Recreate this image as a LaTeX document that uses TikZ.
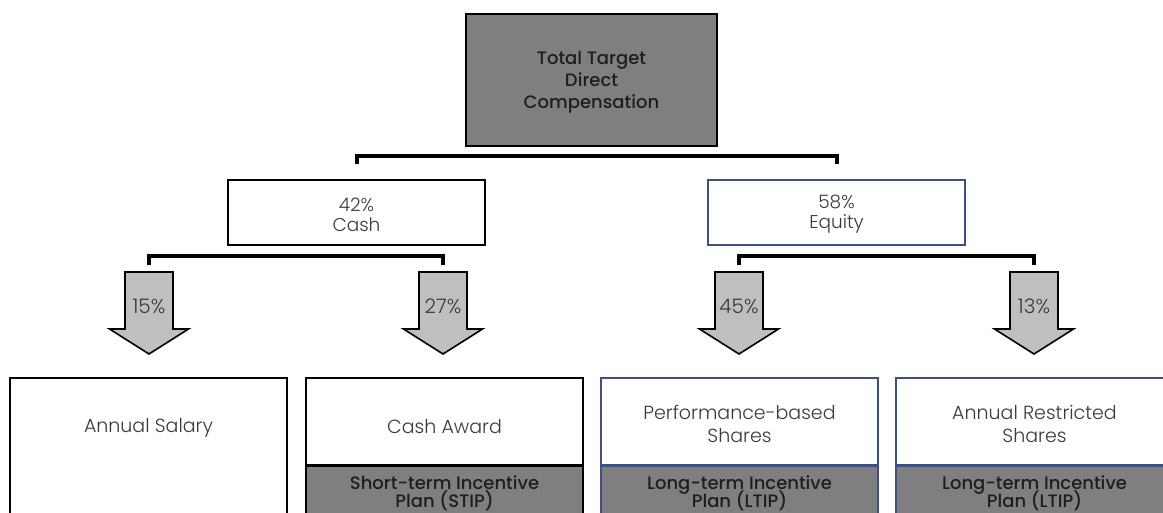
\documentclass[tikz,border=0pt]{standalone}
\usepackage{fontspec}
\setmainfont{Poppins}
\newfontfamily\lightfont{Poppins Light}
\newfontfamily\medfont{Poppins Medium}
\usetikzlibrary{positioning}
\lineskiplimit=-50pt

\definecolor{boxgray}{HTML}{7F7F7F}
\definecolor{arrowgray}{HTML}{BFBFBF}
\definecolor{navy}{RGB}{63,79,130}
\definecolor{darktext}{HTML}{1E1E1E}
\definecolor{lighttext}{HTML}{3A3A3A}

\tikzset{
  headbox/.style={draw=black, line width=2pt, fill=boxgray, text=darktext,
    minimum width=251pt, minimum height=132pt, align=center, text height=61pt,
    font=\medfont\fontsize{18}{22}\selectfont},
  splitbox/.style={draw=black, line width=1.6pt, fill=white, text=lighttext,
    minimum width=257pt, minimum height=65pt, align=center, text height=37.5pt,
    font=\lightfont\fontsize{18.5}{20}\selectfont},
  planbox/.style={draw=black, line width=1.6pt, fill=white, text=lighttext,
    minimum width=277pt, minimum height=87pt, align=center, inner sep=0pt,
    font=\lightfont\fontsize{19}{23}\selectfont},
  bandbox/.style={draw=black, line width=1.6pt, fill=boxgray, text=darktext,
    minimum width=277pt, minimum height=54pt, align=center, inner sep=0pt,
    font=\medfont\fontsize{18}{17.5}\selectfont},
  bracket/.style={line width=4pt, line cap=butt},
  blockarrow/.style={draw=black, line width=1.6pt, fill=arrowgray, line join=miter},
  pct/.style={text=lighttext, inner sep=0pt, font=\lightfont\fontsize{20}{20}\selectfont},
}

\begin{document}
\begin{tikzpicture}[x=1pt, y=-1pt]
  \useasboundingbox (0,0) rectangle (1163,512);

  % top level
  \node[headbox] (total) at (591.5,80) {Total Target\\Direct\\Compensation};

  % cash / equity split
  \node[splitbox] (cash) at (356.5,212.5) {42\%\\Cash};
  \node[splitbox, draw=navy] (equity) at (836.5,212.5) {58\%\\Equity};

  \draw[bracket] ([yshift=15pt]cash.north) -- ([yshift=23pt]cash.north)
    -- ([yshift=23pt]equity.north) -- ([yshift=15pt]equity.north);

  % arrows with shares
  \foreach \x/\p/\n in {149/15/a, 443/27/b, 739/45/c, 1034/13/d}{
    \coordinate (t\n) at (\x,272);
    \draw[blockarrow] (\x-24,272) -- (\x+24,272) -- (\x+24,329) -- (\x+39.5,329)
      -- (\x,354) -- (\x-39.5,329) -- (\x-24,329) -- cycle;
    \node[pct] (p\n) at (\x,306) {\p\%};
  }
  \draw[bracket] ([yshift=7pt]ta) -- ([yshift=16pt]ta) -- ([yshift=16pt]tb) -- ([yshift=7pt]tb);
  \draw[bracket] ([yshift=7pt]tc) -- ([yshift=16pt]tc) -- ([yshift=16pt]td) -- ([yshift=7pt]td);

  % components
  \node[planbox, minimum height=160pt, anchor=north] (salary) at (148.5,377) {};
  \node[lighttext, font=\lightfont\fontsize{19}{23}\selectfont] (salarytxt) at (148.5,428) {Annual Salary};

  \node[planbox, anchor=north, text height=24pt] (award) at (444.5,377) {Cash Award};
  \node[bandbox, below=0pt of award] (stip) {Short-term Incentive\\Plan (STIP)};

  \node[planbox, draw=navy, anchor=north, text height=42pt] (perf) at (739.5,377) {Performance-based\\Shares};
  \node[bandbox, draw=navy, below=0pt of perf] (ltipa) {Long-term Incentive\\Plan (LTIP)};

  \node[planbox, draw=navy, anchor=north, text height=42pt] (rsu) at (1034.5,377) {Annual Restricted\\Shares};
  \node[bandbox, draw=navy, below=0pt of rsu] (ltipb) {Long-term Incentive\\Plan (LTIP)};
\end{tikzpicture}
\end{document}
